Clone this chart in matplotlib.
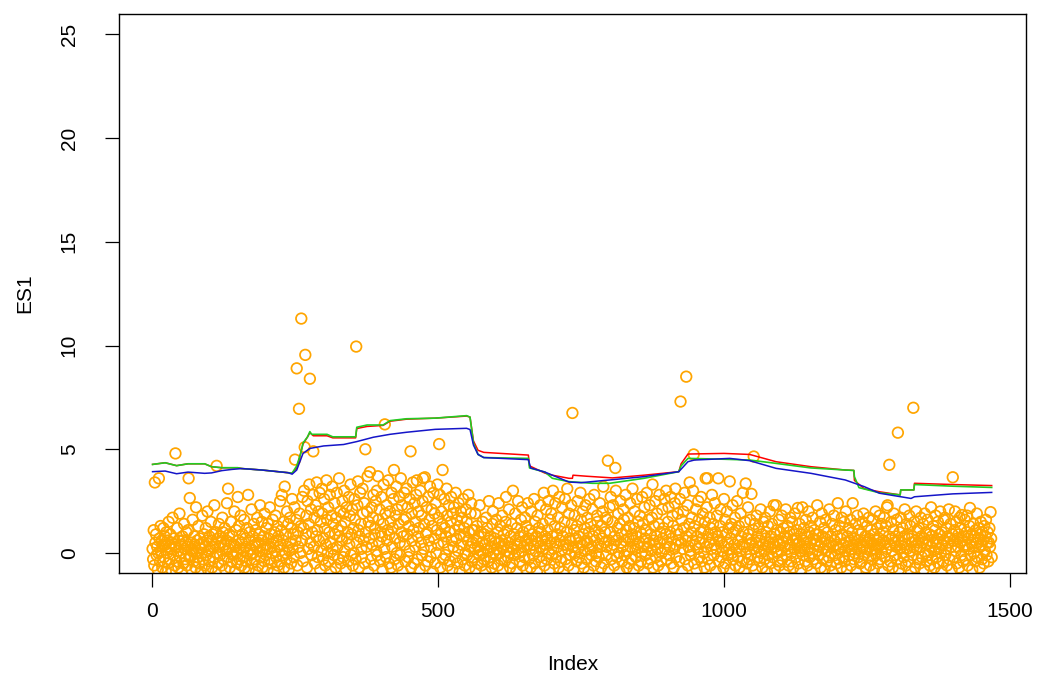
import matplotlib
matplotlib.use("Agg")
import matplotlib.pyplot as plt
import numpy as np

plt.rcParams['font.family'] = ['Liberation Sans', 'DejaVu Sans']

# ES1 observations, one value per index (1..1468)
es1 = [
    0.2, -0.3, 1.1, -0.6, 3.4, 0.5, 0.9, -0.1, 0.3, -0.8, 0.0, 3.6, 0.7, -0.4, 1.3, 0.1, 0.6, -0.7, 0.4, 1.2,
    -0.2, 0.8, 0.4, -0.9, 1.0, 0.0, 0.6, -0.5, 1.5, 0.3, -0.3, 0.9, 0.2, -0.8, 0.5, 1.7, -0.1, 0.7, 0.4, -0.6,
    4.8, 0.3, -0.4, 1.2, 0.1, -0.7, 0.6, 1.9, -0.2, 0.4, 0.0, -0.9, 0.8, 0.6, -0.5, 1.4, 0.2, -0.3, 0.5, 1.0,
    -0.6, 0.3, 1.1, 3.6, -0.2, 2.65, -0.1, 0.5, -0.8, 0.2, 1.6, 0.1, -0.4, 0.8, 0.4, -0.7, 2.2, 0.0, 0.6, -0.2,
    1.3, -0.5, 0.4, 0.7, -0.9, 0.2, 0.0, 1.8, -0.3, 0.5, 0.9, -0.6, 0.3, 1.2, -0.1, 0.6, 2.0, -0.8, 0.1, 0.8,
    -0.4, 0.2, 1.5, 0.6, -0.7, 0.9, 0.3, -0.2, 2.3, 0.4, -0.9, 1.0, 4.2, 0.0, 0.7, -0.5, 1.4, 0.3, -0.1, 0.8,
    0.5, -0.6, 1.7, 1.0, -0.3, 0.4, 1.2, -0.8, 0.1, 0.6, 2.4, -0.2, 3.1, 0.2, 0.9, -0.7, 0.5, 1.5, -0.4, 0.0,
    0.8, -0.1, 0.4, 2.0, -0.9, 0.3, 1.1, 0.0, -0.5, 2.7, 0.6, 1.3, -0.3, 0.2, 1.8, -0.6, 0.5, 0.9, -0.2, 0.1,
    1.6, -0.7, 0.7, 0.3, -0.4, 1.2, 0.0, 2.8, -0.8, 0.6, 1.0, -0.1, 0.2, 2.1, -0.5, 0.8, 0.0, 1.4, -0.3, 0.4,
    1.1, -0.9, 0.3, 1.7, 0.5, -0.6, 0.9, 0.1, 2.3, -0.2, 0.6, 1.5, -0.7, 0.2, 0.8, -0.4, 1.9, 0.4, -0.1, 1.2,
    0.2, -0.8, 1.4, 0.7, -0.3, 2.2, 0.3, 0.9, -0.5, 0.0, 1.6, 0.5, -0.9, 1.0, 0.1, 1.8, -0.2, 0.6, 1.3, -0.6,
    0.8, 0.3, -0.4, 2.5, 0.4, 1.1, 2.8, -0.1, 0.6, 1.5, -0.7, 3.2, 0.0, 0.9, -0.3, 2.0, 0.3, 1.4, -0.8, 0.1,
    1.7, 0.5, -0.5, 1.2, 2.6, 0.2, 0.9, -0.2, 2.2, 4.5, 0.6, 1.6, 8.9, -0.6, 1.0, 0.3, 6.95, 1.9, 0.0, 1.3,
    11.3, 0.6, 2.7, -0.4, 1.2, 3.0, 5.1, 9.55, 0.9, 1.8, -0.7, 2.5, 0.2, 1.4, 3.3, 8.4, 0.5, 2.1, -0.1, 1.0,
    2.8, 4.9, 0.3, 1.7, -0.5, 2.3, 0.8, 3.4, 1.1, -0.2, 2.0, 0.6, 2.9, -0.8, 1.5, 0.1, 3.1, 1.9, -0.3, 0.7,
    2.6, 1.2, -0.6, 0.4, 3.5, 1.6, 0.0, 2.2, -0.4, 1.0, 2.8, 0.5, -0.9, 1.8, 3.2, 0.2, 1.4, -0.1, 2.4, 0.9,
    -0.7, 1.7, 2.9, 0.3, 1.1, -0.3, 3.6, 0.8, 2.0, -0.5, 1.3, 0.6, 2.5, -0.2, 1.9, 3.0, 0.1, 1.5, -0.8, 2.2,
    0.7, 1.0, -0.4, 2.7, 0.4, 1.8, 3.3, -0.1, 0.9, 2.1, -0.6, 1.2, 0.0, 2.6, 1.6, -0.3, 9.95, 0.5, 2.3, 3.45,
    1.1, -0.7, 0.8, 2.9, 1.4, 0.2, -0.2, 3.1, 1.9, 0.6, 2.4, -0.5, 5.0, 1.0, 0.3, 2.0, 3.7, -0.9, 1.5, 0.7,
    3.9, 1.3, -0.3, 2.2, 0.4, 1.7, 2.8, -0.6, 0.9, 1.2, 2.5, 0.1, 3.0, -0.1, 3.7, 1.6, 0.5, 2.1, -0.4, 1.0,
    2.7, 0.8, -0.8, 1.4, 3.3, 0.2, 6.2, 1.9, -0.2, 2.3, 0.6, 1.1, 3.5, -0.5, 0.9, 2.0, 1.5, -0.7, 2.9, 0.3,
    1.2, 2.6, 4.0, -0.3, 0.7, 1.8, 3.2, 0.0, 2.1, -0.6, 1.4, 2.7, 0.5, -0.1, 3.6, 1.0, 2.3, -0.9, 0.8, 1.6,
    2.9, 0.4, -0.4, 1.7, 3.1, 0.9, 2.2, -0.2, 1.3, 0.1, 2.6, 4.9, -0.7, 1.9, 0.6, 3.4, 1.1, -0.5, 2.4, 0.3,
    1.5, 2.8, 3.5, -0.3, 0.8, 2.0, 1.2, -0.8, 3.0, 0.5, 1.8, -0.1, 2.5, 3.6, 0.2, 1.4, 3.65, -0.6, 0.9, 2.2,
    1.0, -0.4, 2.7, 0.6, 1.6, 3.2, -0.2, 0.3, 2.1, 1.3, -0.9, 2.9, 0.7, 1.9, -0.5, 2.4, 0.0, 1.1, 3.3, 0.4,
    1.7, 5.25, 2.8, -0.7, 0.9, 2.0, 1.4, 4.0, -0.3, 0.5, 2.6, 1.2, -0.1, 0.8, 3.1, 1.8, -0.6, 0.2, 2.3, 1.0,
    -0.4, 1.5, 2.7, 0.6, -0.8, 1.9, 0.3, 2.2, 1.1, -0.2, 2.9, 0.7, 1.6, -0.5, 0.1, 2.4, 1.3, -0.9, 0.9, 2.0,
    0.4, 1.7, -0.3, 2.6, 0.8, 1.2, -0.6, 0.0, 2.1, 1.5, -0.1, 0.6, 2.8, 1.0, -0.7, 0.3, 1.9, 2.4, -0.4, 1.1,
    0.5, -0.2, 1.1, 0.2, 1.9, -0.8, 0.6, 1.3, -0.5, 0.3, 0.8, -0.1, 2.3, 0.1, 1.0, -0.6, 0.5, 1.5, 0.0, -0.3,
    0.9, 0.4, -0.9, 1.7, 0.2, 1.2, -0.4, 0.1, 2.5, 0.6, -0.2, 0.8, 0.3, -0.7, 1.4, 2.0, 0.0, -0.5, 0.7, 0.5,
    -0.1, 1.6, 0.2, 1.0, -0.6, 2.4, 0.5, 0.0, 1.3, -0.3, 0.6, 1.8, -0.8, 0.3, 0.9, 0.4, -0.4, 1.5, 2.7, 0.1,
    1.1, -0.2, 0.5, 2.1, 0.0, -0.7, 0.8, 0.3, 1.4, -0.5, 3.0, 0.2, 0.9, -0.1, 1.9, 0.6, -0.9, 1.2, 0.4, 2.5,
    0.0, 0.8, -0.4, 0.5, 1.6, 0.1, 2.2, -0.6, 1.0, 0.3, -0.2, 1.7, 0.6, 1.3, -0.8, 0.4, 2.4, 0.7, -0.3, 1.1,
    0.2, -0.7, 2.0, 0.6, 0.9, -0.1, 0.4, 2.6, -0.5, 1.5, 0.1, 0.8, -0.9, 1.8, 0.5, 1.2, -0.2, 0.3, 2.3, 1.0,
    -0.4, 0.6, 1.4, 0.2, 2.9, -0.6, 0.8, 0.4, 2.1, -0.3, 0.7, 1.1, 2.5, 0.0, -0.8, 1.6, 0.5, 1.9, -0.1, 0.8,
    3.0, 0.2, -0.5, 1.3, 2.4, 0.5, -0.2, 0.9, 0.3, 1.7, -0.7, 2.7, 0.6, 1.2, -0.4, 0.1, 2.2, 0.8, -0.9, 0.4,
    1.5, 2.6, -0.3, 0.4, 1.0, 3.1, 0.2, -0.6, 1.9, 0.7, 0.6, -0.1, 2.3, 1.4, 6.75, 0.3, -0.8, 1.1, 1.8, 0.0,
    0.7, -0.4, 1.3, 2.5, 0.2, 0.8, -0.2, 0.5, 2.9, 1.6, -0.5, 0.4, 2.0, 0.9, -0.7, 0.1, 1.2, 2.3, 0.6, -0.3,
    1.7, 0.5, -0.9, 1.0, 2.6, 0.2, 1.4, -0.1, 0.3, 2.1, 0.8, -0.6, 2.8, 0.6, 1.1, -0.4, 0.0, 1.8, 1.5, 0.4,
    -0.2, 0.9, 2.4, 0.3, -0.7, 1.3, 0.7, 2.0, 3.2, -0.5, 0.5, 1.0, 1.7, -0.1, 0.3, 1.6, 4.45, -0.8, 0.6, 2.2,
    1.0, 2.7, -0.3, 0.2, 1.5, 2.3, 0.4, -0.6, 0.8, 4.1, 3.0, 0.6, -0.2, 1.2, 1.9, 0.0, -0.9, 1.4, 2.5, 0.5,
    0.9, -0.4, 0.3, 2.1, 1.6, -0.1, 0.6, 2.8, 1.1, -0.7, 0.1, 1.7, 0.7, -0.5, 1.3, 2.4, 0.3, -0.3, 0.9, 3.1,
    0.6, -0.8, 1.2, 2.0, 0.2, -0.2, 0.8, 2.6, 0.4, 1.5, -0.6, 0.5, 1.8, 1.0, -0.4, 0.0, 2.7, 1.4, 0.3, -0.9,
    2.2, 0.7, -0.1, 1.1, 2.9, 0.3, -0.5, 1.6, 0.5, 2.3, -0.3, 0.9, 0.1, 1.7, 3.3, -0.7, 0.6, 1.3, 0.4, 2.5,
    -0.2, 0.8, 1.9, 0.2, -0.6, 1.4, 2.8, 0.5, 1.0, -0.4, 0.0, 2.1, 0.7, 1.2, -0.8, 2.6, 0.2, 0.9, 3.0, -0.3,
    0.5, 1.5, 2.2, -0.1, 0.3, 1.0, 2.7, -0.5, 0.7, 1.8, 1.3, -0.7, 0.2, 2.4, 3.1, 0.4, -0.2, 1.1, 1.9, 0.6,
    0.9, -0.4, 2.6, 7.3, 0.5, 1.6, -0.9, 0.2, 2.0, 1.2, 2.9, -0.3, 0.6, 8.5, 0.8, 2.3, -0.6, 0.3, 1.4, 3.4,
    0.1, -0.1, 1.0, 1.7, 0.6, 3.0, 4.75, -0.5, 1.3, 0.4, 2.1, -0.8, 0.8, 0.2, 2.5, 1.6, -0.2, 0.5, 1.0, 2.7,
    -0.4, 0.7, 1.9, 1.1, 0.0, -0.7, 1.5, 3.6, 0.3, 2.2, 3.6, -0.3, 0.9, 0.5, 1.7, -0.6, 1.2, 0.2, 2.8, 0.7,
    1.4, -0.1, 0.4, 2.4, 1.0, -0.9, 0.2, 1.8, 0.8, 3.6, -0.4, 0.6, 1.3, 2.1, -0.2, 0.5, 1.0, 0.1, -0.7, 2.6,
    0.3, 1.6, -0.5, 0.9, 2.0, 0.5, -0.1, 1.2, 0.2, 3.45, -0.8, 0.7, 1.4, 0.0, 2.3, -0.3, 1.0, 0.4, 1.7, -0.6,
    1.1, 0.2, 2.5, -0.2, 0.6, 1.3, -0.7, 0.1, 1.9, 0.8, -0.4, 0.4, 2.9, 1.0, -0.9, 0.3, 1.5, 3.35, 0.0, -0.5,
    0.7, 2.2, 0.9, -0.3, 0.4, 1.6, -0.1, 2.85, 0.5, -0.6, 1.1, 4.65, 0.2, 1.4, -0.8, 0.5, 1.8, 0.8, -0.2, 0.3,
    1.2, -0.4, 0.6, 2.1, 0.0, 0.9, -0.7, 0.4, 1.5, 0.1, -0.3, 1.7, 0.7, 1.0, -0.9, 0.3, 1.3, -0.1, 0.5, 2.0,
    -0.5, 0.8, 0.2, 1.4, -0.2, 0.5, 2.3, 0.9, -0.8, 0.3, 2.3, 1.1, 0.0, -0.4, 0.6, 1.6, -0.6, 0.4, 1.0, 0.1,
    1.8, -0.3, 0.5, 1.2, -0.9, 0.3, 0.8, 2.1, -0.1, 0.7, 1.3, 0.2, -0.6, 1.0, 0.4, 1.7, -0.4, 0.0, 1.5, 0.6,
    -0.7, 0.9, 0.2, 1.9, 0.7, -0.2, 1.1, 0.4, 2.17, -0.5, 0.5, 1.4, 0.1, -0.8, 0.9, 0.3, 2.2, -0.1, 0.6, 1.2,
    0.2, -0.4, 1.6, 0.5, 0.8, -0.6, 0.2, 2.0, 1.0, -0.2, 0.5, 1.3, -0.9, 0.0, 1.7, 0.7, -0.3, 1.1, 0.4, 0.9,
    -0.5, 0.6, 2.3, 0.1, 0.9, -0.1, 0.3, 1.5, -0.7, 0.5, 1.9, 0.8, -0.3, 0.2, 1.2, -0.8, 0.7, 1.6, 0.1, -0.4,
    1.0, 0.4, -0.2, 2.1, 0.5, -0.6, 0.8, 0.0, 1.4, -0.9, 0.3, 1.8, 0.6, -0.1, 1.1, 0.4, -0.5, 0.8, 2.4, 0.2,
    -0.3, 1.3, 0.2, 0.7, -0.7, 1.7, 0.9, -0.2, 0.4, 1.5, -0.4, 0.1, 2.0, 0.5, -0.8, 0.8, 0.3, 1.2, -0.1, 0.6,
    1.6, -0.6, 0.2, 1.0, 2.4, 0.4, -0.3, 0.7, 0.0, 1.4, -0.9, 0.4, 1.8, 0.6, -0.2, 1.1, 0.2, -0.5, 0.9, 0.5,
    -0.4, 1.5, 0.3, 1.9, -0.1, 0.6, 0.8, -0.7, 0.2, 1.3, 0.5, -0.2, 1.7, 0.7, -0.6, 0.1, 1.1, 0.5, -0.3, 1.6,
    0.4, -0.8, 0.9, 0.2, 2.0, -0.1, 0.6, 1.2, -0.5, 0.3, 0.7, 1.8, -0.3, 0.4, 1.4, 0.0, -0.9, 1.0, 0.6, 1.7,
    -0.2, 0.5, 1.3, 0.2, 2.2, 2.3, -0.6, 0.8, 4.25, 0.4, -0.4, 1.5, 0.7, 0.1, -0.7, 1.1, 1.9, 0.5, -0.1, 0.8,
    0.3, 1.6, -0.3, 5.8, 0.6, -0.8, 1.0, 0.2, 1.7, -0.5, 0.5, 1.2, 0.0, -0.2, 0.8, 2.1, 0.4, -0.6, 1.4, 0.2,
    0.9, -0.4, 0.7, 1.8, 0.1, 1.3, -0.9, 0.5, 0.8, -0.1, 7.0, 0.3, 1.5, -0.7, 0.6, 2.0, 0.2, 1.1, -0.3, 0.5,
    1.2, -0.5, 0.3, 1.7, 0.8, -0.2, 0.5, 1.4, -0.8, 0.7, 1.9, 0.0, 1.0, -0.4, 0.4, 1.6, -0.1, 0.6, 0.9, -0.6,
    0.3, 2.2, 0.8, -0.3, 0.5, 1.3, 0.1, -0.7, 1.1, 1.8, 0.5, -0.2, 0.7, 1.5, -0.5, 0.2, 0.9, 2.0, 0.0, -0.9,
    1.0, 0.4, -0.4, 1.6, 0.6, 1.7, -0.1, 0.2, 1.2, -0.6, 0.8, 0.5, 2.1, -0.3, 0.7, 1.4, 0.3, -0.8, 0.9, 3.65,
    0.6, -0.2, 1.1, 2.0, 0.1, 1.5, -0.5, 0.7, 0.3, 0.9, -0.7, 1.7, 0.5, 1.2, -0.1, 1.83, 0.6, -0.4, 0.8, 0.3,
    1.6, -0.3, 0.4, 1.0, 1.8, -0.6, 0.7, 0.2, 1.3, 2.17, -0.1, 0.5, 0.9, -0.8, 0.3, 1.4, 0.0, 0.8, -0.4, 1.1,
    0.5, 1.9, -0.2, 0.7, 1.2, 0.3, -0.7, 0.9, 1.5, 0.4, -0.3, 1.0, 0.6, -0.5, 1.3, 0.1, 0.8, 1.6, -0.1, 0.5,
    1.0, -0.4, 0.5, 1.2, 0.3, 1.97, 0.7, -0.2,
]

# estimate lines, read as (index, value) vertices
red_idx = [1, 23, 43, 63, 92, 104, 122, 150, 157, 192, 238, 245, 253, 258, 264, 272, 276, 282, 306, 316,
           356, 358, 376, 404, 416, 445, 495, 550, 556, 562, 570, 580, 658, 660, 687, 700, 729, 735, 736,
           760, 805, 860, 921, 925, 937, 1000, 1045, 1091, 1152, 1212, 1227, 1228, 1245, 1272, 1308, 1309,
           1332, 1333, 1400, 1468]
red_val = [4.27, 4.35, 4.21, 4.3, 4.3, 4.16, 4.11, 4.11, 4.07, 4.0, 3.87, 3.85, 4.1, 4.6, 5.25, 5.6, 5.8,
           5.65, 5.65, 5.55, 5.55, 6.0, 6.1, 6.15, 6.35, 6.45, 6.5, 6.6, 6.55, 5.4, 4.95, 4.85, 4.72, 4.2,
           3.85, 3.75, 3.6, 3.6, 3.75, 3.7, 3.62, 3.75, 3.92, 4.3, 4.77, 4.8, 4.75, 4.4, 4.16, 4.0, 3.98,
           3.5, 3.1, 2.95, 2.8, 3.04, 3.04, 3.36, 3.3, 3.25]

green_idx = [1, 23, 43, 63, 92, 104, 122, 150, 157, 192, 238, 245, 253, 260, 264, 272, 276, 279, 306, 316,
             356, 358, 376, 404, 416, 445, 495, 550, 556, 562, 570, 580, 658, 660, 687, 700, 729, 770, 800,
             860, 921, 925, 937, 1000, 1045, 1091, 1152, 1212, 1227, 1228, 1236, 1272, 1308, 1309, 1332,
             1333, 1400, 1468]
green_val = [4.27, 4.35, 4.21, 4.3, 4.3, 4.16, 4.11, 4.11, 4.07, 4.0, 3.87, 3.85, 4.2, 4.8, 5.3, 5.6, 5.85,
             5.72, 5.72, 5.6, 5.6, 6.06, 6.17, 6.17, 6.38, 6.47, 6.5, 6.62, 6.55, 5.3, 4.75, 4.6, 4.56, 4.1,
             3.9, 3.6, 3.44, 3.36, 3.36, 3.6, 3.92, 4.2, 4.56, 4.52, 4.48, 4.32, 4.1, 4.0, 3.98, 3.68, 3.15,
             2.9, 2.8, 3.04, 3.04, 3.3, 3.22, 3.16]

blue_idx = [1, 23, 43, 63, 92, 104, 122, 140, 157, 192, 238, 245, 253, 264, 276, 300, 335, 358, 387, 416,
            445, 495, 550, 556, 562, 570, 580, 658, 662, 687, 729, 750, 800, 860, 921, 937, 948, 1010, 1045,
            1091, 1152, 1212, 1245, 1272, 1327, 1333, 1400, 1468]
blue_val = [3.92, 3.95, 3.82, 3.9, 3.84, 3.86, 3.97, 4.03, 4.07, 4.0, 3.87, 3.8, 4.0, 4.8, 5.04, 5.16, 5.23,
            5.37, 5.58, 5.72, 5.82, 5.96, 6.01, 5.95, 5.2, 4.75, 4.6, 4.5, 4.1, 3.9, 3.42, 3.39, 3.52, 3.68,
            3.92, 4.4, 4.48, 4.56, 4.45, 4.08, 3.84, 3.52, 3.2, 2.88, 2.63, 2.71, 2.85, 2.92]

x_ticks = [0, 500, 1000, 1500]
y_ticks = [0, 5, 10, 15, 20, 25]

idx = np.arange(1, len(es1) + 1)

fig = plt.figure(figsize=(10.42, 6.82), dpi=100)
ax = fig.add_axes([119 / 1042, 1 - 573 / 682, 907 / 1042, 559 / 682])

ax.scatter(idx, es1, s=58, facecolors='none', edgecolors='#FFA500', linewidths=1.25, zorder=2)
ax.plot(red_idx, red_val, color='#FF0000', lw=1.1, zorder=3)
ax.plot(green_idx, green_val, color='#22CC22', lw=1.2, zorder=4)
ax.plot(blue_idx, blue_val, color='#1515C8', lw=1.1, zorder=5)

ax.set_xlim(-57.7, 1528)
ax.set_ylim(-0.964, 25.98)
ax.set_xticks(x_ticks)
ax.set_yticks(y_ticks)
ax.tick_params(axis='both', length=10, width=0.9, labelsize=15)
ax.tick_params(axis='x', pad=11)
ax.tick_params(axis='y', pad=19)
for lab in ax.get_yticklabels():
    lab.set_rotation(90)
    lab.set_va('center')
for s in ax.spines.values():
    s.set_linewidth(1.0)

ax.set_xlabel('Index', fontsize=15)
ax.set_ylabel('ES1', fontsize=15)
ax.xaxis.set_label_coords(0.5, -0.163)
ax.yaxis.set_label_coords(-0.104, 0.5)
ax.xaxis.label.set_va('center')
ax.yaxis.label.set_va('center')

fig.savefig('out.png', dpi=100)
